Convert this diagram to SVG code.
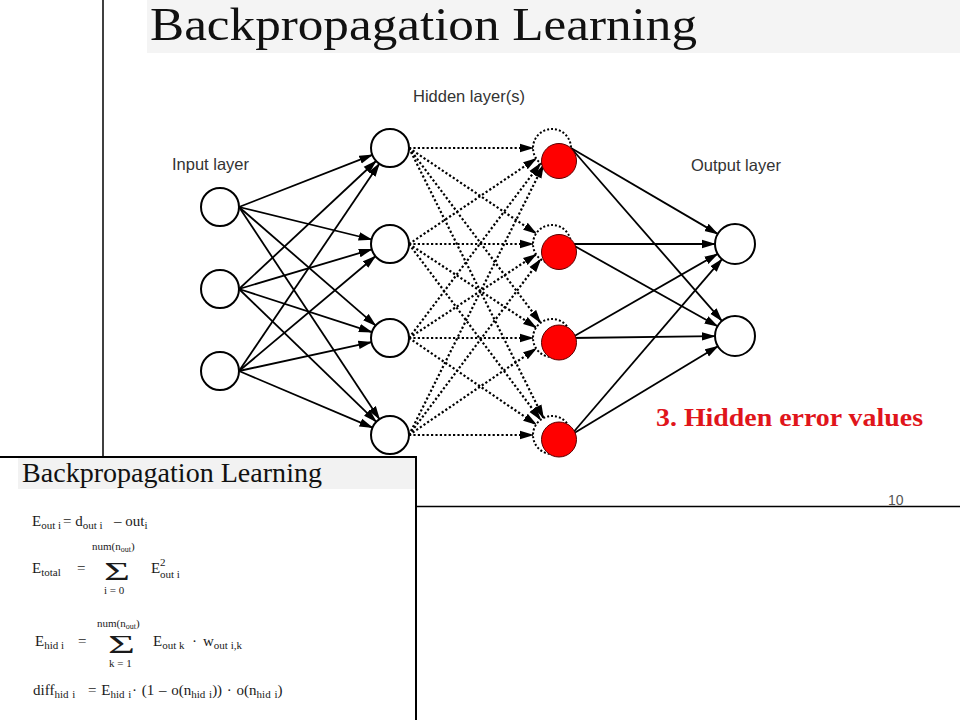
<svg xmlns="http://www.w3.org/2000/svg" width="960" height="720" viewBox="0 0 960 720">
<defs>
<style>
.node{fill:#fff;stroke:#000;stroke-width:2}
.ghost{fill:#fff;stroke:#000;stroke-width:2;stroke-dasharray:2 2}
.red{fill:#ff0000;stroke:#5a0000;stroke-width:1}
.solid line{stroke:#000;stroke-width:1.8;marker-end:url(#arr)}
.dotted line{stroke:#000;stroke-width:2.2;stroke-dasharray:2.2 2.2;marker-end:url(#arr)}
.lbl{font-family:"Liberation Sans",Arial,sans-serif;font-size:16.5px;fill:#333}
.f{font-family:"Liberation Serif","Times New Roman",serif;font-size:15px;fill:#1a1a1a}
.s{font-size:11px}
.sm{font-family:"Liberation Serif","Times New Roman",serif;font-size:11px;fill:#1a1a1a}
.sig{font-family:"Liberation Serif","Times New Roman",serif;font-size:25px;fill:#1a1a1a}
</style>
<marker id="arr" markerWidth="14" markerHeight="10" refX="13" refY="5" orient="auto" markerUnits="userSpaceOnUse">
<path d="M0,0.8 L14,5 L0,9.2 z" fill="#000" stroke="none"/>
</marker>
</defs>
<rect width="960" height="720" fill="#fff"/>
<!-- slide frame -->
<line x1="103" y1="0" x2="103" y2="458" stroke="#000" stroke-width="1.5"/>
<line x1="415" y1="506.5" x2="960" y2="506.5" stroke="#000" stroke-width="1.5"/>
<rect x="147" y="0" width="813" height="53" fill="#f4f4f4"/>
<text x="150" y="40" font-family="'Liberation Serif','Times New Roman',serif" font-size="46" fill="#111" textLength="547" lengthAdjust="spacingAndGlyphs">Backpropagation Learning</text>
<text x="413" y="102" class="lbl">Hidden layer(s)</text>
<text x="172" y="170" class="lbl">Input layer</text>
<text x="691" y="171" class="lbl">Output layer</text>
<text x="888" y="505" font-family="'Liberation Sans',Arial,sans-serif" font-size="14" fill="#555">10</text>
<text x="656" y="426" font-family="'Liberation Serif','Times New Roman',serif" font-size="26" font-weight="bold" fill="#e0151b" textLength="267" lengthAdjust="spacingAndGlyphs">3. Hidden error values</text>

<g id="connectors">
<g class="solid">
<line x1="239" y1="207" x2="372.3" y2="154.9"/>
<line x1="239" y1="207" x2="371.6" y2="239.5"/>
<line x1="239" y1="207" x2="375.7" y2="325.6"/>
<line x1="239" y1="207" x2="379.5" y2="419.2"/>
<line x1="239" y1="289" x2="376.1" y2="161"/>
<line x1="239" y1="289" x2="371.8" y2="249.4"/>
<line x1="239" y1="289" x2="371.9" y2="332.1"/>
<line x1="239" y1="289" x2="376.3" y2="421.8"/>
<line x1="239" y1="371" x2="379.3" y2="163.7"/>
<line x1="239" y1="371" x2="375.5" y2="256.2"/>
<line x1="239" y1="371" x2="371.4" y2="342.1"/>
<line x1="239" y1="371" x2="372.5" y2="427.6"/>
</g>
<g class="dotted">
<line x1="409" y1="148" x2="533" y2="148"/>
<line x1="409" y1="148" x2="536.2" y2="233.5"/>
<line x1="409" y1="148" x2="540.6" y2="322.8"/>
<line x1="409" y1="148" x2="543.5" y2="418"/>
<line x1="409" y1="244" x2="536.2" y2="158.5"/>
<line x1="409" y1="244" x2="533" y2="244"/>
<line x1="409" y1="244" x2="536.2" y2="327.6"/>
<line x1="409" y1="244" x2="540.6" y2="419.8"/>
<line x1="409" y1="338" x2="540.6" y2="163.2"/>
<line x1="409" y1="338" x2="536.2" y2="254.4"/>
<line x1="409" y1="338" x2="533" y2="338"/>
<line x1="409" y1="338" x2="536.2" y2="424.5"/>
<line x1="409" y1="435" x2="543.5" y2="165"/>
<line x1="409" y1="435" x2="540.6" y2="259.2"/>
<line x1="409" y1="435" x2="536.2" y2="348.5"/>
<line x1="409" y1="435" x2="533" y2="435"/>
</g>
<g class="solid">
<line x1="571" y1="148" x2="717.7" y2="233.9"/>
<line x1="571" y1="148" x2="721.9" y2="320.9"/>
<line x1="571" y1="244" x2="715" y2="244"/>
<line x1="571" y1="244" x2="717.6" y2="326.2"/>
<line x1="571" y1="338" x2="717.6" y2="253.9"/>
<line x1="571" y1="338" x2="715" y2="336.2"/>
<line x1="571" y1="435" x2="722" y2="259.2"/>
<line x1="571" y1="435" x2="717.9" y2="346.3"/>
</g>
</g>

<g id="in1"><circle class="node" cx="220" cy="207" r="19"/></g>
<g id="in2"><circle class="node" cx="220" cy="289" r="19"/></g>
<g id="in3"><circle class="node" cx="220" cy="371" r="19"/></g>
<g id="h1"><circle class="node" cx="390" cy="148" r="19"/></g>
<g id="h2"><circle class="node" cx="390" cy="244" r="19"/></g>
<g id="h3"><circle class="node" cx="390" cy="338" r="19"/></g>
<g id="h4"><circle class="node" cx="390" cy="435" r="19"/></g>
<g id="r1"><circle class="ghost" cx="552" cy="148" r="19"/><circle class="red" cx="559" cy="161" r="17.5"/></g>
<g id="r2"><circle class="ghost" cx="552" cy="244" r="19"/><circle class="red" cx="559" cy="252" r="17.5"/></g>
<g id="r3"><circle class="ghost" cx="552" cy="338" r="19"/><circle class="red" cx="559" cy="342.5" r="17.5"/></g>
<g id="r4"><circle class="ghost" cx="552" cy="435" r="19"/><circle class="red" cx="559" cy="439.5" r="17.5"/></g>
<g id="o1"><circle class="node" cx="735" cy="244" r="20"/></g>
<g id="o2"><circle class="node" cx="735" cy="336" r="20"/></g>

<!-- inset panel -->
<g id="inset">
<rect x="-2" y="457" width="418" height="265" fill="#fff" stroke="#000" stroke-width="2"/>
<rect x="18" y="458" width="397" height="31" fill="#f2f2f2"/>
<text x="22" y="482" font-family="'Liberation Serif','Times New Roman',serif" font-size="28" fill="#111" textLength="300" lengthAdjust="spacingAndGlyphs">Backpropagation Learning</text>

<text class="f" x="32" y="526">E<tspan class="s" dy="3">out i</tspan><tspan x="63" dy="-3">= d</tspan><tspan class="s" dy="3">out i</tspan><tspan x="114" dy="-3">– out</tspan><tspan class="s" dy="3">i</tspan></text>

<text class="f" x="32" y="573">E<tspan class="s" dy="3">total</tspan><tspan x="77" dy="-3">=</tspan></text>
<text class="sm" x="92" y="550">num(n<tspan font-size="8" dy="2">out</tspan><tspan dy="-2">)</tspan></text>
<text class="sig" x="104" y="580" textLength="26" lengthAdjust="spacingAndGlyphs">Σ</text>
<text class="sm" x="104" y="594">i = 0</text>
<text class="f" x="151" y="573">E</text>
<text class="f s" x="160" y="566">2</text>
<text class="f s" x="160" y="578">out i</text>

<text class="f" x="35" y="646">E<tspan class="s" dy="3">hid i</tspan><tspan x="78" dy="-3">=</tspan></text>
<text class="sm" x="97" y="627">num(n<tspan font-size="8" dy="2">out</tspan><tspan dy="-2">)</tspan></text>
<text class="sig" x="108" y="653" textLength="27" lengthAdjust="spacingAndGlyphs">Σ</text>
<text class="sm" x="109" y="667">k = 1</text>
<text class="f" x="153" y="646">E<tspan class="s" dy="3">out k</tspan><tspan x="192" dy="-3">·</tspan><tspan x="203">w</tspan><tspan class="s" dy="3">out i,k</tspan></text>

<text class="f" x="33" y="695" word-spacing="1">diff<tspan class="s" dy="3">hid i</tspan><tspan x="88" dy="-3">= E</tspan><tspan class="s" dy="3">hid i</tspan><tspan x="132" dy="-3">· (1 – o(n</tspan><tspan class="s" dy="3">hid i</tspan><tspan dy="-3">)) · o(n</tspan><tspan class="s" dy="3">hid i</tspan><tspan dy="-3">)</tspan></text>
</g>
</svg>
